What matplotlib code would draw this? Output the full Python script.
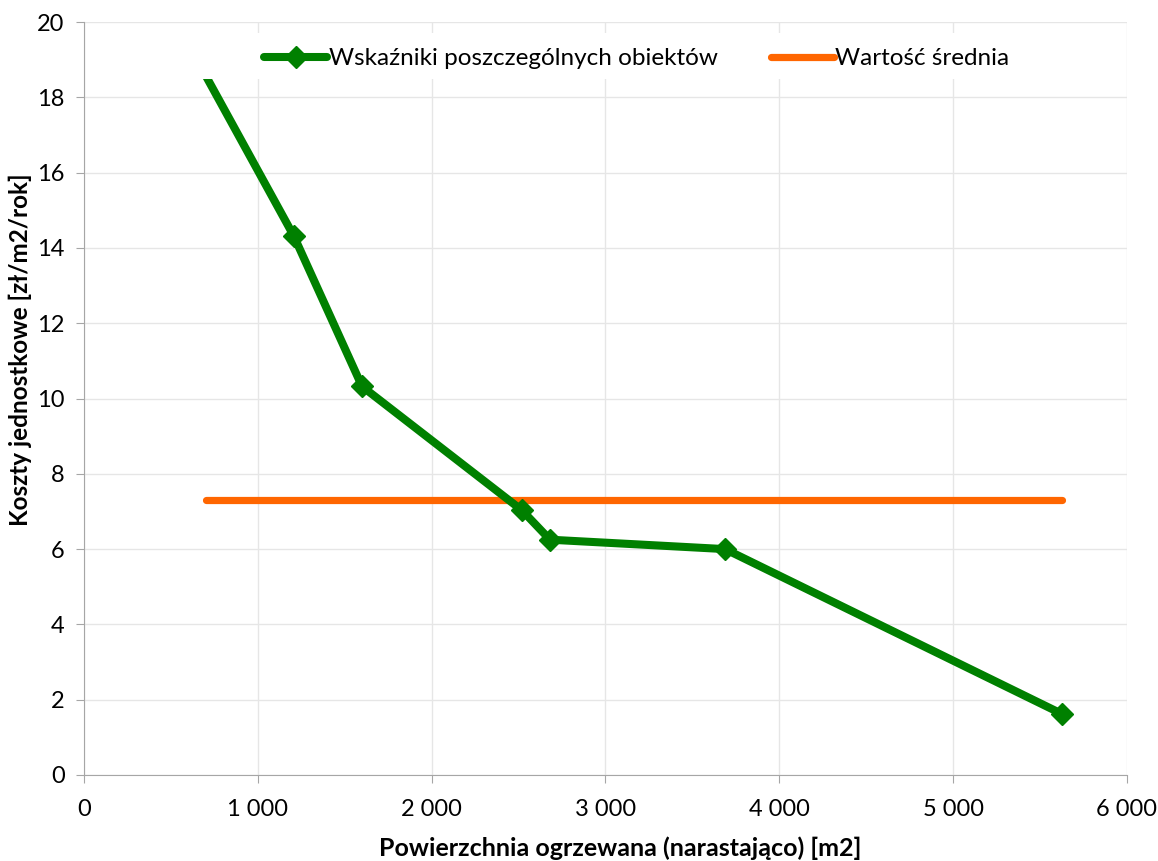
#!/usr/bin/env python3
# Koszty jednostkowe vs powierzchnia ogrzewana (narastajaco)
import matplotlib
matplotlib.use("Agg")
import matplotlib.pyplot as plt
from matplotlib.patches import Rectangle
from matplotlib.ticker import FuncFormatter, MultipleLocator

plt.rcParams['font.family'] = ['Lato', 'DejaVu Sans']

# Data
area = [650, 1208, 1600, 2520, 2681, 3688, 5627]      # m2, cumulative
cost = [19.0, 14.31, 10.32, 7.03, 6.25, 6.0, 1.62]    # zl/m2/rok
mean_x = [700, 5627]
mean_y = [7.31, 7.31]

label_obj = 'Wskaźniki poszczególnych obiektów'
label_mean = 'Wartość średnia'
xlabel = 'Powierzchnia ogrzewana (narastająco) [m2]'
ylabel = 'Koszty jednostkowe [zł/m2/rok]'

fig = plt.figure(figsize=(11.58, 8.61), dpi=100)
ax = fig.add_axes([0.0725, 0.0999, 0.9007, 0.8745])

ax.plot(area, cost, color='#008000', lw=5.8, marker='D', ms=11,
        solid_capstyle='round', solid_joinstyle='round', label=label_obj, zorder=3)
ax.plot(mean_x, mean_y, color='#ff6600', lw=5.2, solid_capstyle='round',
        label=label_mean, zorder=2)

ax.set_xlim(0, 6000)
ax.set_ylim(0, 20)
ax.xaxis.set_major_locator(MultipleLocator(1000))
ax.yaxis.set_major_locator(MultipleLocator(2))
ax.xaxis.set_major_formatter(FuncFormatter(lambda v, p: f'{int(v):,}'.replace(',', ' ')))

ax.grid(True, color='#e6e6e6', lw=1)
ax.set_axisbelow(True)
for s in ['top', 'right']:
    ax.spines[s].set_visible(False)
for s in ['left', 'bottom']:
    ax.spines[s].set_color('#a6a6a6')
ax.tick_params(axis='both', colors='#a6a6a6', labelcolor='black', labelsize=17, length=6)
ax.tick_params(axis='x', pad=11)
ax.tick_params(axis='y', pad=8)

ax.set_xlabel(xlabel, fontsize=18, fontweight='bold')
ax.xaxis.set_label_coords(0.514, -0.081)
ax.set_ylabel(ylabel, fontsize=17.5, fontweight='bold')
ax.yaxis.set_label_coords(-0.05, 0.565)

# white legend area (hides the line underneath like the original)
ax.add_patch(Rectangle((0.092, 0.924), 0.815, 0.061, transform=ax.transAxes,
                       facecolor='white', edgecolor='none', zorder=4))
leg = ax.legend(loc='center', bbox_to_anchor=(0.530, 0.951), ncol=2, fontsize=17.5,
                frameon=False, handlelength=2.6, handletextpad=0.05, columnspacing=2.2)
leg.set_zorder(5)

fig.savefig('out.png', dpi=100)
